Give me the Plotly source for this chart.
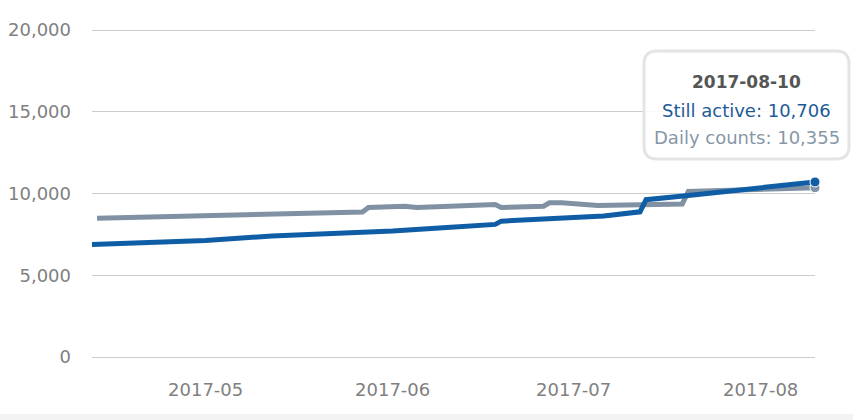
import plotly.graph_objects as go

# ---- data ----
active_dates = ["2017-04-12", "2017-04-20", "2017-05-01", "2017-05-12", "2017-05-20",
                "2017-06-01", "2017-06-10", "2017-06-18", "2017-06-19", "2017-07-01",
                "2017-07-06", "2017-07-12", "2017-07-13", "2017-07-20", "2017-07-27",
                "2017-08-01", "2017-08-05", "2017-08-10"]
active_values = [6880, 6960, 7120, 7400, 7520,
                 7700, 7920, 8110, 8310, 8480,
                 8620, 8880, 9620, 9880, 10150,
                 10300, 10480, 10706]

daily_dates = ["2017-04-13", "2017-04-20", "2017-05-01", "2017-05-10", "2017-05-20",
               "2017-05-27", "2017-05-28", "2017-06-03", "2017-06-05", "2017-06-10",
               "2017-06-18", "2017-06-19", "2017-06-26", "2017-06-27", "2017-06-29",
               "2017-07-05", "2017-07-12", "2017-07-19", "2017-07-20", "2017-07-27",
               "2017-08-03", "2017-08-10"]
daily_values = [8480, 8550, 8620, 8680, 8780,
                8870, 9140, 9220, 9140, 9180,
                9320, 9140, 9220, 9430, 9440,
                9260, 9340, 9360, 10120, 10180,
                10260, 10355]

y_ticks = [0, 5000, 10000, 15000, 20000]
tooltip_date = "2017-08-10"

BLUE = "#0f5da5"
GRAY = "#7f91a3"
FONT = "DejaVu Sans"

# ---- pixel geometry of plot area ----
W, H = 853, 420
PL, PR, PT, PB = 92, 815, 30, 357
EDGE = 3  # px of padding so the 0 / 20,000 gridlines are not clipped
YPAD = 20000 / (PB - PT) * EDGE
PT_ = PT - EDGE
PB_ = PB + EDGE


def px(x):
    return (x - PL) / (PR - PL)


def py(y):
    return (PB_ - y) / (PB_ - PT_)


fig = go.Figure()
fig.add_trace(go.Scatter(x=daily_dates, y=daily_values, mode="lines",
                         line=dict(color=GRAY, width=5), name="Daily counts",
                         hoverinfo="skip"))
fig.add_trace(go.Scatter(x=active_dates, y=active_values, mode="lines",
                         line=dict(color=BLUE, width=5), name="Still active",
                         hoverinfo="skip"))
fig.add_trace(go.Scatter(x=[daily_dates[-1]], y=[daily_values[-1]], mode="markers",
                         marker=dict(color=GRAY, size=10, line=dict(color="white", width=1)),
                         hoverinfo="skip", cliponaxis=False))
fig.add_trace(go.Scatter(x=[active_dates[-1]], y=[active_values[-1]], mode="markers",
                         marker=dict(color=BLUE, size=10, line=dict(color="white", width=1)),
                         hoverinfo="skip", cliponaxis=False))

# tooltip box (rounded rectangle)
l, rr, t, b, r = 644, 849, 51, 159, 13
path = (f"M {px(l + r)},{py(t)} L {px(rr - r)},{py(t)} Q {px(rr)},{py(t)} {px(rr)},{py(t + r)} "
        f"L {px(rr)},{py(b - r)} Q {px(rr)},{py(b)} {px(rr - r)},{py(b)} "
        f"L {px(l + r)},{py(b)} Q {px(l)},{py(b)} {px(l)},{py(b - r)} "
        f"L {px(l)},{py(t + r)} Q {px(l)},{py(t)} {px(l + r)},{py(t)} Z")
shapes = [
    dict(type="rect", xref="paper", yref="paper", x0=px(0), x1=px(W), y0=py(414), y1=py(H),
         fillcolor="#f3f3f3", line=dict(width=0), layer="below"),
    dict(type="path", xref="paper", yref="paper", path=path,
         fillcolor="rgba(255,255,255,0.88)", line=dict(color="#e4e4e4", width=3)),
]

cx = px((l + rr) / 2)
annotations = [
    dict(xref="paper", yref="paper", x=cx, y=py(82), text=f"<b>{tooltip_date}</b>",
         showarrow=False, xanchor="center", yanchor="middle",
         font=dict(family=FONT, size=17, color="#555555")),
    dict(xref="paper", yref="paper", x=cx, y=py(111), text=f"Still active: {active_values[-1]:,}",
         showarrow=False, xanchor="center", yanchor="middle",
         font=dict(family=FONT, size=18, color="#1d5b98")),
    dict(xref="paper", yref="paper", x=cx, y=py(137), text=f"Daily counts: {daily_values[-1]:,}",
         showarrow=False, xanchor="center", yanchor="middle",
         font=dict(family=FONT, size=18, color="#8797a8")),
]

fig.update_layout(
    width=W, height=H, autosize=False,
    margin=dict(l=PL, r=W - PR, t=PT_, b=H - PB_, pad=0),
    paper_bgcolor="white", plot_bgcolor="white",
    showlegend=False,
    font=dict(family=FONT, size=18, color="#808080"),
    shapes=shapes, annotations=annotations,
    hovermode=False,
)
fig.update_xaxes(
    type="date", range=["2017-04-12 04:00", "2017-08-10"],
    dtick="M1", tick0="2017-05-01", tickformat="%Y-%m",
    showgrid=False, zeroline=False, showline=False, ticks="",
    ticklabelstandoff=20 - EDGE, automargin=False,
    tickfont=dict(family=FONT, size=18, color="#808080"),
)
fig.update_yaxes(
    range=[-YPAD, 20000 + YPAD], tickvals=y_ticks, tickformat=",d",
    showgrid=True, gridcolor="#cccccc", gridwidth=1,
    zeroline=False, showline=False, ticks="",
    ticklabelstandoff=20, automargin=False,
    tickfont=dict(family=FONT, size=18, color="#808080"),
)

fig.write_html("out.html", config={"displayModeBar": False},
               post_script="document.body.style.margin='0';")
